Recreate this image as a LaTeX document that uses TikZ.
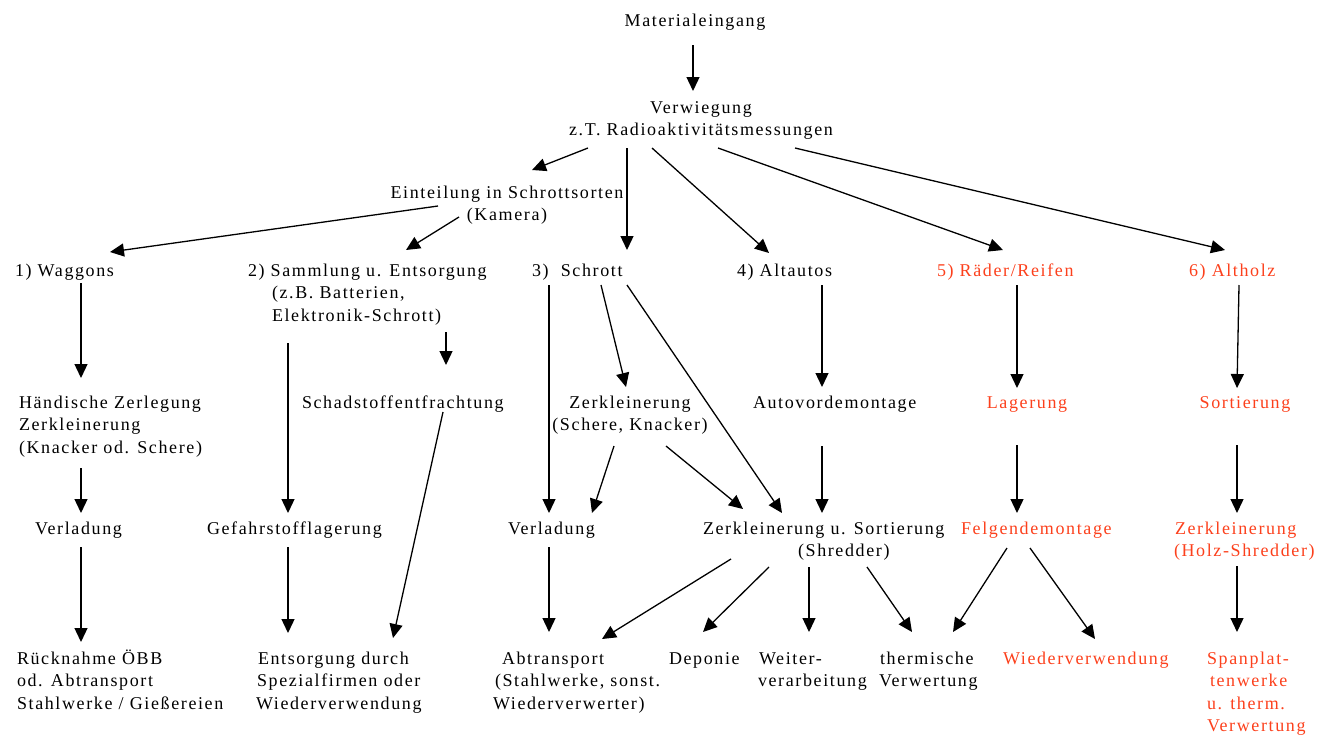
\documentclass[tikz,border=0pt]{standalone}
\usepackage{fontspec}
\setmainfont{Liberation Serif}[LetterSpace=9.0]
\usetikzlibrary{arrows.meta}
\definecolor{myred}{RGB}{252,64,28}
\newcommand{\mlines}[2]{\begin{tabular}[t]{@{}#1@{}}#2\end{tabular}}
\begin{document}
\begin{tikzpicture}[x=1pt,y=-1pt,
  lbl/.style={inner sep=0pt,outer sep=0pt,font=\fontsize{18}{22.6}\selectfont},
  lw/.style={lbl,anchor=base west},
  lc/.style={lbl,anchor=base},
  hot/.style={text=myred},
  arr/.style={line width=1.3pt,-{Triangle[length=14pt,width=13pt]}}]
\useasboundingbox (0,0) rectangle (1321,737);
% row 0
\node[lc] (mat) at (695,26) {Materialeingang};
\node[lc] (verw) at (701,113) {\mlines{c}{Verwiegung\\z.T. Radioaktivitätsmessungen}};
\node[lc] (ein) at (507,198) {\mlines{c}{Einteilung in Schrottsorten\\(Kamera)}};
% row 1
\node[lw] (wag) at (15,276) {1) Waggons};
\node[lw] (sam) at (248,276) {\mlines{l}{2) Sammlung u. Entsorgung\\\hspace*{24pt}(z.B. Batterien,\\\hspace*{24pt}Elektronik-Schrott)}};
\node[lw] (schrott) at (532,276) {3)~ Schrott};
\node[lw] (alt) at (737,276) {4) Altautos};
\node[lw,hot] (rad) at (937,276) {5) Räder/Reifen};
\node[lw,hot] (holz) at (1189,276) {6) Altholz};
% row 2
\node[lw] (hand) at (19,408) {\mlines{l}{Händische Zerlegung\\Zerkleinerung\\(Knacker od. Schere)}};
\node[lw] (schad) at (302,408) {Schadstoffentfrachtung};
\node[lc] (zer) at (630,408) {\mlines{c}{Zerkleinerung\\(Schere, Knacker)}};
\node[lw] (avd) at (753,408) {Autovordemontage};
\node[lc,hot] (lag) at (1027,408) {Lagerung};
\node[lc,hot] (sort) at (1245,408) {Sortierung};
% row 3
\node[lw] (verl1) at (35,534) {Verladung};
\node[lw] (gef) at (207,534) {Gefahrstofflagerung};
\node[lw] (verl2) at (508,534) {Verladung};
\node[lw] (zus) at (703,534) {\mlines{l}{Zerkleinerung u. Sortierung\\\hspace*{95pt}(Shredder)}};
\node[lw,hot] (felg) at (961,534) {Felgendemontage};
\node[lw,hot] (zerh) at (1174,534) {\mlines{l}{\hspace*{1pt}Zerkleinerung\\(Holz-Shredder)}};
% row 4
\node[lw] (ruck) at (17,664) {\mlines{l}{Rücknahme ÖBB\\od. Abtransport\\Stahlwerke / Gießereien}};
\node[lw] (ents) at (256,664) {\mlines{l}{\hspace*{2pt}Entsorgung durch\\\hspace*{1pt}Spezialfirmen oder\\Wiederverwendung}};
\node[lw] (abt) at (493,664) {\mlines{l}{\hspace*{9pt}Abtransport\\\hspace*{2pt}(Stahlwerke, sonst.\\Wiederverwerter)}};
\node[lw] (dep) at (669,664) {Deponie};
\node[lw] (weit) at (758,664) {\mlines{l}{\hspace*{1pt}Weiter-\\verarbeitung}};
\node[lw] (therm) at (879,664) {\mlines{l}{\hspace*{1pt}thermische\\Verwertung}};
\node[lw,hot] (wied) at (1003,664) {Wiederverwendung};
\node[lw,hot] (span) at (1207,664) {\mlines{l}{Spanplat-\\\hspace*{3pt}tenwerke\\u. therm.\\Verwertung}};
% connectors
\draw[arr] ([shift={(-2,19)}]mat.base) -- ([shift={(-8,-22)}]verw.base);
\draw[arr] ([shift={(-113,35)}]verw.base) -- ([shift={(25,-28)}]ein.base);
\draw[arr] ([shift={(-74,35)}]verw.base) -- ([shift={(95,-26)}]schrott.base west);
\draw[arr] ([shift={(-49,35)}]verw.base) -- ([shift={(32,-23)}]alt.base west);
\draw[arr] ([shift={(17,35)}]verw.base) -- ([shift={(66,-26)}]rad.base west);
\draw[arr] ([shift={(94,35)}]verw.base) -- ([shift={(36,-26)}]holz.base west);
\draw[arr] ([shift={(-69,8)}]ein.base) -- ([shift={(95,-24)}]wag.base west);
\draw[arr] ([shift={(-48,19)}]ein.base) -- ([shift={(158,-26)}]sam.base west);
\draw[arr] ([shift={(66,7)}]wag.base west) -- ([shift={(62,-30)}]hand.base west);
\draw[arr] ([shift={(198,56)}]sam.base west) -- ([shift={(144,-43)}]schad.base west);
\draw[arr] ([shift={(40,67)}]sam.base west) -- ([shift={(81,-21)}]gef.base west);
\draw[arr] ([shift={(17,9)}]schrott.base west) -- ([shift={(41,-21)}]verl2.base west);
\draw[arr] ([shift={(69,9)}]schrott.base west) -- ([shift={(-4,-21)}]zer.base);
\draw[arr] ([shift={(95,9)}]schrott.base west) -- ([shift={(79,-21)}]zus.base west);
\draw[arr] ([shift={(85,9)}]alt.base west) -- ([shift={(69,-21)}]avd.base west);
\draw[arr] ([shift={(80,9)}]rad.base west) -- ([shift={(-10,-20)}]lag.base);
\draw[arr] ([shift={(50,9)}]holz.base west) -- ([shift={(-8,-20)}]sort.base);
\draw[arr] ([shift={(62,60)}]hand.base west) -- ([shift={(46,-21)}]verl1.base west);
\draw[arr] ([shift={(141,4)}]schad.base west) -- ([shift={(137,-26)}]ents.base west);
\draw[arr] ([shift={(-16,38)}]zer.base) -- ([shift={(84,-21)}]verl2.base west);
\draw[arr] ([shift={(36,38)}]zer.base) -- ([shift={(40,-25)}]zus.base west);
\draw[arr] ([shift={(69,38)}]avd.base west) -- ([shift={(119,-21)}]zus.base west);
\draw[arr] ([shift={(-10,37)}]lag.base) -- ([shift={(56,-21)}]felg.base west);
\draw[arr] ([shift={(-8,37)}]sort.base) -- ([shift={(63,-21)}]zerh.base west);
\draw[arr] ([shift={(46,13)}]verl1.base west) -- ([shift={(64,-22)}]ruck.base west);
\draw[arr] ([shift={(81,13)}]gef.base west) -- ([shift={(32,-31)}]ents.base west);
\draw[arr] ([shift={(41,13)}]verl2.base west) -- ([shift={(56,-32)}]abt.base west);
\draw[arr] ([shift={(28,25)}]zus.base west) -- ([shift={(109,-25)}]abt.base west);
\draw[arr] ([shift={(66,33)}]zus.base west) -- ([shift={(34,-32)}]dep.base west);
\draw[arr] ([shift={(106,33)}]zus.base west) -- ([shift={(51,-32)}]weit.base west);
\draw[arr] ([shift={(164,33)}]zus.base west) -- ([shift={(33,-32)}]therm.base west);
\draw[arr] ([shift={(46,14)}]felg.base west) -- ([shift={(74,-32)}]therm.base west);
\draw[arr] ([shift={(69,14)}]felg.base west) -- ([shift={(92,-25)}]wied.base west);
\draw[arr] ([shift={(63,32)}]zerh.base west) -- ([shift={(30,-32)}]span.base west);
\end{tikzpicture}
\end{document}
